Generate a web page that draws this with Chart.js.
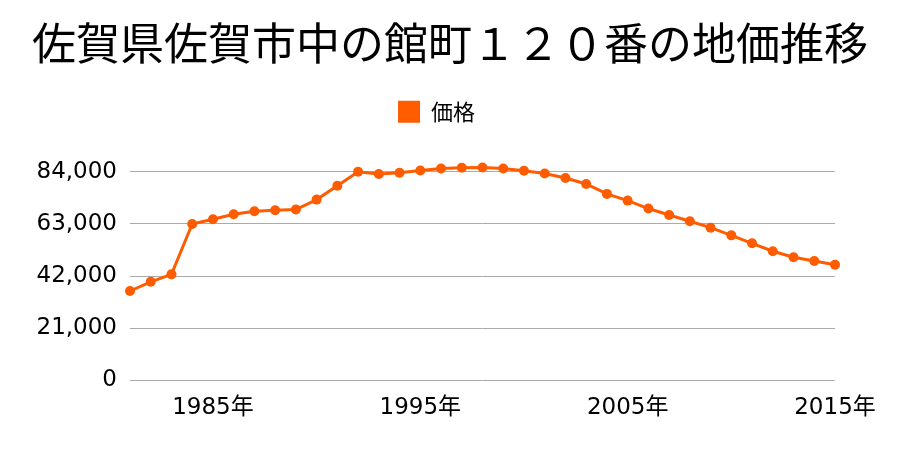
<!DOCTYPE html>
<html>
<head>
<meta charset="utf-8">
<script src="https://cdn.jsdelivr.net/npm/chart.js@4"></script>
<style>
  html, body { margin: 0; padding: 0; background: #fff; }
  #wrap { width: 900px; height: 450px; }
</style>
</head>
<body>
<div id="wrap"><canvas id="landChart"></canvas></div>
<script>
// 佐賀県佐賀市中の館町１２０番 — 地価推移 (1981–2015)
const years = [1981, 1982, 1983, 1984, 1985, 1986, 1987, 1988, 1989, 1990,
  1991, 1992, 1993, 1994, 1995, 1996, 1997, 1998, 1999, 2000,
  2001, 2002, 2003, 2004, 2005, 2006, 2007, 2008, 2009, 2010,
  2011, 2012, 2013, 2014, 2015];
const prices = [36000, 39700, 42700, 63000, 64900, 66900, 68100, 68500, 68800, 72800,
  78400, 84000, 83100, 83600, 84500, 85300, 85600, 85700, 85300, 84400,
  83300, 81500, 79100, 75100, 72400, 69200, 66600, 64100, 61500, 58400,
  55200, 52000, 49600, 48100, 46600];
const xTicks = [1985, 1995, 2005, 2015];
const yTicks = [0, 21000, 42000, 63000, 84000];

const orange = '#ff5c00';
const cjkFont = "'Noto Sans CJK JP', 'Noto Sans', sans-serif";
const tickFont = "'DejaVu Sans', 'Noto Sans CJK JP', sans-serif";

// extra room between the legend and the plot
const legendGap = {
  id: 'legendGap',
  beforeInit(chart) {
    const fit = chart.legend.fit;
    chart.legend.fit = function () {
      fit.bind(chart.legend)();
      this.height += 39;
    };
  }
};

const ctx = document.getElementById('landChart').getContext('2d');
new Chart(ctx, {
  type: 'line',
  data: {
    datasets: [{
      label: '価格',
      data: years.map((y, i) => ({ x: y, y: prices[i] })),
      borderColor: orange,
      backgroundColor: orange,
      borderWidth: 3,
      pointRadius: 5,
      pointHoverRadius: 5,
      pointBackgroundColor: orange,
      pointBorderWidth: 0,
      tension: 0,
      clip: false
    }]
  },
  options: {
    responsive: true,
    maintainAspectRatio: false,
    animation: false,
    layout: { padding: { left: 0, right: 0, top: 0, bottom: 22 } },
    plugins: {
      title: {
        display: true,
        text: '佐賀県佐賀市中の館町１２０番の地価推移',
        color: '#000',
        font: { family: cjkFont, size: 44, weight: 'normal' },
        padding: { top: 17, bottom: 21 }
      },
      legend: {
        display: true,
        labels: {
          color: '#000',
          boxWidth: 22,
          boxHeight: 22,
          padding: 10,
          font: { family: cjkFont, size: 22 },
          generateLabels: (chart) => {
            const items = Chart.defaults.plugins.legend.labels.generateLabels(chart);
            items.forEach(it => {
              it.text = it.text + '\u3000 ';
              it.lineWidth = 0;
            });
            return items;
          }
        }
      },
      tooltip: { enabled: false }
    },
    scales: {
      x: {
        type: 'linear',
        min: 1981,
        max: 2015,
        grid: { display: false },
        border: { display: false },
        afterBuildTicks: (axis) => { axis.ticks = xTicks.map(v => ({ value: v })); },
        afterFit: (axis) => { axis.paddingRight = 65; },
        ticks: {
          color: '#000',
          maxRotation: 0,
          padding: 6,
          font: { family: tickFont, size: 23 },
          callback: (value) => `${value}年`
        }
      },
      y: {
        min: 0,
        max: 84000,
        grid: { color: '#aaaaaa', lineWidth: 1, drawTicks: false },
        border: { display: false },
        afterBuildTicks: (axis) => { axis.ticks = yTicks.map(v => ({ value: v })); },
        afterFit: (axis) => { axis.width = 130; },
        ticks: {
          color: '#000',
          padding: 13,
          font: { family: tickFont, size: 23 },
          callback: (value) => value.toLocaleString('en-US')
        }
      }
    }
  },
  plugins: [legendGap]
});
</script>
</body>
</html>
